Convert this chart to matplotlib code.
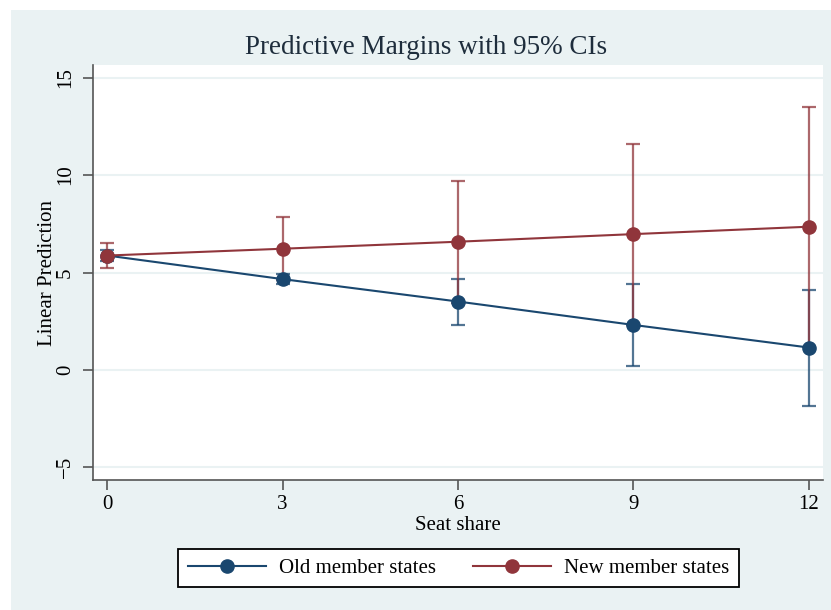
import numpy as np
import matplotlib.pyplot as plt
from matplotlib.patches import Rectangle
from matplotlib.lines import Line2D

# seat share values on the x axis
seat_share = [0, 3, 6, 9, 12]

# old member states: margin and 95% CI
old_margin = [5.87, 4.66, 3.51, 2.31, 1.15]
old_lower = [5.60, 4.42, 2.31, 0.22, -1.83]
old_upper = [6.14, 4.90, 4.69, 4.42, 4.11]

# new member states: margin and 95% CI
new_margin = [5.87, 6.22, 6.58, 6.97, 7.35]
new_lower = [5.22, 4.60, 3.45, 2.33, 1.20]
new_upper = [6.50, 7.86, 9.71, 11.60, 13.50]

yticks = [-5, 0, 5, 10, 15]
xticks = [0, 3, 6, 9, 12]

navy = '#1a476f'
maroon = '#90353b'
bg = '#eaf2f3'

plt.rcParams['font.family'] = ['Liberation Serif', 'DejaVu Serif']

W, H = 831, 610
fig = plt.figure(figsize=(W/100, H/100), dpi=100)
fig.patch.set_facecolor('white')
fig.patches.append(Rectangle((11/W, 0), 1-11/W, (H-10)/H, transform=fig.transFigure,
                             facecolor=bg, edgecolor='none', zorder=-10))

ax = fig.add_axes([93/W, (H-480)/H, (823-93)/W, (480-65)/H])
ax.set_zorder(1)
ax.set_facecolor('white')

def ci(x, lo, hi, col):
    x = np.array(x)
    lo = np.array(lo)
    hi = np.array(hi)
    mid = (lo+hi)/2
    ax.errorbar(x, mid, yerr=[mid-lo, hi-mid], fmt='none', ecolor=col, alpha=0.75,
                elinewidth=1.6, capsize=5, capthick=1.6, zorder=2)

ci(seat_share, old_lower, old_upper, navy)
ci(seat_share, new_lower, new_upper, maroon)
ax.plot(seat_share, old_margin, color=navy, lw=1.5, marker='o', ms=9.5, zorder=3)
ax.plot(seat_share, new_margin, color=maroon, lw=1.5, marker='o', ms=9.5, zorder=4)

ax.set_xlim(-0.245, 12.245)
ax.set_ylim(-5.65, 15.65)
ax.set_xticks(xticks)
ax.set_yticks(yticks)
ax.yaxis.grid(True, color=bg, lw=1.5)
ax.set_axisbelow(True)
for s in ['top', 'right']:
    ax.spines[s].set_visible(False)
for s in ['left', 'bottom']:
    ax.spines[s].set_color('#555555')
    ax.spines[s].set_linewidth(1.2)
ax.tick_params(length=7, width=1.2, color='#555555', labelsize=15, pad=4)
ax.tick_params(axis='y', pad=6)
plt.setp(ax.get_yticklabels(), rotation=90, va='center')

ax.set_xlabel('Seat share', fontsize=15, labelpad=1)
ax.set_ylabel('Linear Prediction', fontsize=15)
ax.yaxis.set_label_coords(-0.05, 0.5)
fig.text(426.5/W, (H-47)/H, 'Predictive Margins with 95% CIs', ha='center', va='center',
         fontsize=19.5, color='#1e2d3c')

handles = [Line2D([], [], color=navy, lw=1.5, marker='o', ms=9.5),
           Line2D([], [], color=maroon, lw=1.5, marker='o', ms=9.5)]
leg = fig.legend(handles, ['Old member states', 'New member states'], ncol=2,
                 loc='center', bbox_to_anchor=(458.5/W, 42/H), fontsize=15,
                 fancybox=False, edgecolor='black', framealpha=1,
                 handlelength=3.75, handletextpad=0.62, columnspacing=1.78,
                 borderpad=0.45, borderaxespad=0)
leg.get_frame().set_linewidth(1.3)

fig.savefig('out.png', dpi=100)
